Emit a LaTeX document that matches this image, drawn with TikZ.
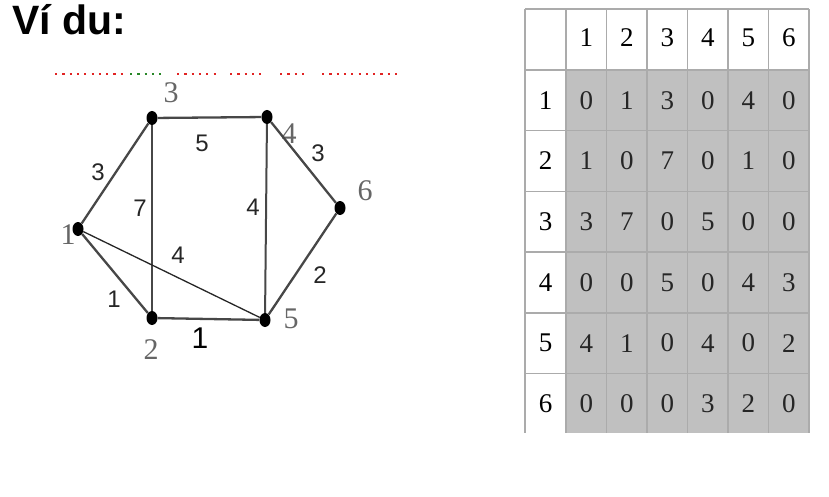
\documentclass[tikz,border=0pt]{standalone}
\usepackage{fontspec}
\setmainfont{Liberation Serif}
\newfontfamily\arial{Liberation Sans}
\usetikzlibrary{shapes.geometric}

\definecolor{dotred}{RGB}{225,35,35}
\definecolor{dotgreen}{RGB}{40,135,40}
\definecolor{cellgray}{RGB}{192,192,192}

\begin{document}
\begin{tikzpicture}[x=1pt,y=-1pt,
  vertex/.style={ellipse,fill=black,inner sep=0pt,minimum width=11pt,minimum height=14pt},
  link/.style={draw=black!72,line width=2.3pt},
  weight/.style={font=\arial\fontsize{24}{24}\selectfont,inner sep=0pt,text=black!85},
  vname/.style={font=\fontsize{30}{30}\selectfont,inner sep=0pt,text=black!60},
  dots/.style={line width=2pt,dash pattern=on 2.2pt off 5.1pt},
  grid/.style={draw=black!33,line width=1.5pt},
  entry/.style={font=\fontsize{27}{27}\selectfont,inner sep=0pt}]
  \useasboundingbox (0,0) rectangle (829,497);

  \node[anchor=base west,inner sep=0pt,font=\arial\bfseries\fontsize{41}{41}\selectfont] (title) at (12,35) {Ví du:};

  % dotted rule
  \draw[dots,dotred]   (55,74)  -- (125,74);
  \draw[dots,dotgreen] (130,74) -- (164,74);
  \draw[dots,dotred]   (177,74) -- (219,74);
  \draw[dots,dotred]   (230,74) -- (265,74);
  \draw[dots,dotred]   (280,74) -- (305,74);
  \draw[dots,dotred]   (322,74) -- (402,74);

  % graph
  \node[vertex] (v1) at (78,229) {};
  \node[vertex] (v2) at (152,318) {};
  \node[vertex] (v3) at (152,118) {};
  \node[vertex] (v4) at (267,117) {};
  \node[vertex] (v5) at (265,320) {};
  \node[vertex] (v6) at (340,208) {};

  \node[vname] (n1) at (68,235) {1};
  \node[vname] (n2) at (151,350) {2};
  \node[vname] (n3) at (171,93) {3};
  \node[vname] (n4) at (289,134) {4};
  \node[vname] (n5) at (291,319) {5};
  \node[vname] (n6) at (365,191) {6};

  \path (v1) edge[link] node[weight,shift={(-17,-1.5)}] {3} (v3)
        (v3) edge[link] node[weight,shift={(-7.5,25.5)}] {5} (v4)
        (v4) edge[link] node[weight,shift={(14.5,-9.5)}] {3} (v6)
        (v3) edge[link,line width=2pt] node[weight,shift={(-12,-10)}] {7} (v2)
        (v4) edge[link,line width=2pt] node[weight,shift={(-13,-11.5)}] {4} (v5)
        (v6) edge[link] node[weight,shift={(17.5,11)}] {2} (v5)
        (v1) edge[link] node[weight,pos=.82,shift={(-22,0)}] {1} (v2)
        (v2) edge[link] node[weight,text=black,font=\arial\fontsize{30}{30}\selectfont,shift={(-8.5,19)}] {1} (v5)
        (v1) edge[draw=black!85,line width=1.3pt] node[weight,shift={(6.5,-19.5)}] {4} (v5);

  % table
  \fill[cellgray] (566,70) rectangle (809,433);
  \foreach \x in {525,566,606.5,647,687.5,728,768.5,809}
    \draw[grid] (\x,9) -- (\x,433);
  \foreach \y in {9,70,130.7,191.4,252.1,312.8,373.5}
    \draw[grid] (525,\y) -- (809,\y);
  \foreach \c in {1,...,6} {
    \node[entry] (head-\c) at (566+40.5*\c-20.25,38) {\c};
    \node[entry] (side-\c) at (545.5,70+60.7*\c-30.35) {\c};
  }
  \foreach \row [count=\r] in {{0,1,3,0,4,0},{1,0,7,0,1,0},{3,7,0,5,0,0},
                              {0,0,5,0,4,3},{4,1,0,4,0,2},{0,0,0,3,2,0}}
    \foreach \v [count=\c] in \row
      \node[entry,text=black!85] (cell-\r-\c) at (566+40.5*\c-20.25,70+60.7*\r-30.35) {\v};
\end{tikzpicture}
\end{document}
